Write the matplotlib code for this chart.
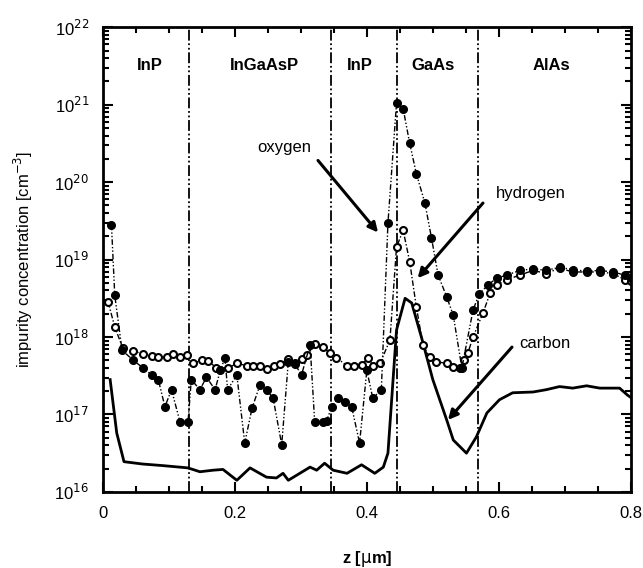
import numpy as np
import matplotlib
matplotlib.use("Agg")
import matplotlib.pyplot as plt
from matplotlib.ticker import LogLocator, MultipleLocator, FixedLocator, NullFormatter, FuncFormatter

plt.rcParams['font.family'] = ['Liberation Sans', 'DejaVu Sans']

# carbon (solid line), z in um, log10 of concentration
carbon_z = [0.011, 0.021, 0.032, 0.06, 0.09, 0.129, 0.147, 0.167, 0.182, 0.203, 0.223,
            0.248, 0.263, 0.273, 0.281, 0.314, 0.324, 0.336, 0.349, 0.37, 0.392, 0.412,
            0.425, 0.432, 0.445, 0.458, 0.468, 0.483, 0.5, 0.521, 0.531, 0.551, 0.566,
            0.582, 0.601, 0.621, 0.652, 0.672, 0.692, 0.712, 0.733, 0.753, 0.783, 0.795, 0.8]
carbon_log = [17.45, 16.76, 16.39, 16.36, 16.34, 16.31, 16.26, 16.28, 16.29, 16.15, 16.31,
              16.19, 16.18, 16.24, 16.15, 16.32, 16.28, 16.37, 16.28, 16.24, 16.35, 16.24,
              16.32, 16.50, 18.09, 18.50, 18.44, 17.99, 17.45, 16.93, 16.67, 16.50, 16.71,
              17.02, 17.19, 17.28, 17.29, 17.32, 17.36, 17.34, 17.37, 17.34, 17.34, 17.25, 17.22]

# hydrogen (open circles)
hyd_z = [0.008, 0.018, 0.030, 0.046, 0.061, 0.074, 0.084, 0.097, 0.106, 0.117, 0.127,
         0.137, 0.150, 0.160, 0.172, 0.190, 0.203, 0.218, 0.228, 0.238, 0.248, 0.260,
         0.268, 0.281, 0.291, 0.301, 0.309, 0.321, 0.334, 0.344, 0.354, 0.370, 0.380,
         0.392, 0.402, 0.410, 0.420, 0.435, 0.445, 0.455, 0.465, 0.475, 0.485, 0.495,
         0.505, 0.521, 0.531, 0.541, 0.548, 0.553, 0.561, 0.576, 0.587, 0.597, 0.612,
         0.632, 0.652, 0.672, 0.692, 0.712, 0.733, 0.753, 0.773, 0.791, 0.800]
hyd_log = [18.45, 18.13, 17.86, 17.82, 17.78, 17.75, 17.74, 17.74, 17.78, 17.74, 17.77,
           17.66, 17.70, 17.69, 17.60, 17.60, 17.66, 17.63, 17.63, 17.63, 17.59, 17.62,
           17.65, 17.72, 17.66, 17.72, 17.77, 17.91, 17.87, 17.79, 17.73, 17.63, 17.63,
           17.64, 17.73, 17.62, 17.66, 17.96, 19.16, 19.38, 18.97, 18.39, 17.90, 17.74,
           17.68, 17.66, 17.61, 17.60, 17.70, 17.79, 18.00, 18.31, 18.57, 18.67, 18.74,
           18.80, 18.86, 18.82, 18.89, 18.84, 18.84, 18.84, 18.82, 18.74, 18.72]

# oxygen (filled circles)
oxy_z = [0.013, 0.018, 0.029, 0.046, 0.061, 0.074, 0.084, 0.094, 0.104, 0.117, 0.129,
         0.134, 0.147, 0.157, 0.170, 0.178, 0.185, 0.189, 0.203, 0.215, 0.226, 0.238,
         0.248, 0.258, 0.271, 0.281, 0.291, 0.301, 0.314, 0.321, 0.334, 0.339, 0.347,
         0.356, 0.367, 0.377, 0.389, 0.400, 0.409, 0.422, 0.432, 0.445, 0.455, 0.465,
         0.475, 0.488, 0.498, 0.508, 0.521, 0.531, 0.544, 0.561, 0.570, 0.583, 0.597,
         0.612, 0.632, 0.652, 0.672, 0.692, 0.712, 0.733, 0.753, 0.773, 0.791, 0.800]
oxy_log = [19.45, 18.54, 17.83, 17.70, 17.60, 17.51, 17.45, 17.10, 17.32, 16.90, 16.90,
           17.45, 17.32, 17.48, 17.32, 17.57, 17.73, 17.32, 17.51, 16.63, 17.08, 17.38,
           17.32, 17.21, 16.61, 17.68, 17.65, 17.51, 17.90, 16.90, 16.90, 16.92, 17.10,
           17.21, 17.16, 17.10, 16.63, 17.57, 17.21, 17.32, 19.47, 21.02, 20.95, 20.50,
           20.11, 19.73, 19.28, 18.80, 18.52, 18.28, 17.60, 18.35, 18.55, 18.67, 18.76,
           18.80, 18.86, 18.88, 18.86, 18.90, 18.87, 18.85, 18.86, 18.84, 18.80, 18.76]

# layer boundaries and names
boundaries = [0.13, 0.346, 0.445, 0.569]
layer_names = ["InP", "InGaAsP", "InP", "GaAs", "AlAs"]
layer_pos = [0.071, 0.245, 0.39, 0.50, 0.68]

fig = plt.figure(figsize=(6.43, 5.68), dpi=100)
ax = fig.add_axes([0.160, 0.134, 0.821, 0.818])

ax.plot(carbon_z, 10 ** np.array(carbon_log), color='black', lw=2.0)
ax.plot(hyd_z, 10 ** np.array(hyd_log), color='black', lw=1.0, ls=(0, (4, 1.5, 1, 1.5)),
        marker='o', ms=5, mfc='white', mec='black', mew=1.5)
ax.plot(oxy_z, 10 ** np.array(oxy_log), color='black', lw=1.0, ls=(0, (4, 1.5, 1, 1.5, 1, 1.5)),
        marker='o', ms=5.5, mfc='black', mec='black')

for b in boundaries:
    ax.axvline(b, color='black', lw=1.3, ls=(0, (6, 1.5, 1, 1.5, 1, 1.5)), zorder=1)

for name, p in zip(layer_names, layer_pos):
    ax.text(p, 10 ** 21.5, name, ha='center', va='center', fontsize=12, fontweight='bold')

arrow = dict(arrowstyle='-|>', color='black', lw=2.2, mutation_scale=14, shrinkA=0, shrinkB=0)
ax.text(0.275, 10 ** 20.45, "oxygen", ha='center', va='center', fontsize=12)
ax.annotate("", xy=(0.417, 10 ** 19.35), xytext=(0.326, 10 ** 20.28), arrowprops=arrow)
ax.text(0.648, 10 ** 19.85, "hydrogen", ha='center', va='center', fontsize=12)
ax.annotate("", xy=(0.477, 10 ** 18.76), xytext=(0.576, 10 ** 19.73), arrowprops=arrow)
ax.text(0.670, 10 ** 17.92, "carbon", ha='center', va='center', fontsize=12)
ax.annotate("", xy=(0.523, 10 ** 16.93), xytext=(0.620, 10 ** 17.87), arrowprops=arrow)

ax.set_yscale('log')
ax.set_xlim(0, 0.8)
ax.set_ylim(1e16, 1e22)
ax.xaxis.set_major_locator(FixedLocator([0, 0.2, 0.4, 0.6, 0.8]))
ax.xaxis.set_minor_locator(MultipleLocator(0.05))
ax.xaxis.set_major_formatter(FuncFormatter(lambda v, p: "0" if v == 0 else "%.1f" % v))
ax.yaxis.set_major_locator(FixedLocator([10.0 ** e for e in range(16, 23)]))
ax.yaxis.set_minor_locator(LogLocator(base=10, subs=np.arange(2, 10), numticks=20))
ax.yaxis.set_minor_formatter(NullFormatter())
ax.yaxis.set_major_formatter(FuncFormatter(lambda v, p: r"10$^{%d}$" % round(np.log10(v))))
ax.tick_params(which='both', direction='in', top=True, right=True, labelsize=12, width=1.5)
ax.tick_params(which='major', length=7, pad=10)
ax.tick_params(which='minor', length=4)
for s in ax.spines.values():
    s.set_linewidth(2)

ax.set_xlabel(r"z [$\mathrm{\mu}$m]", fontsize=12, fontweight='bold', labelpad=20)
ax.set_ylabel(r"impurity concentration [cm$^{-3}$]", fontsize=12, labelpad=14)

fig.savefig("out.png", dpi=100)
